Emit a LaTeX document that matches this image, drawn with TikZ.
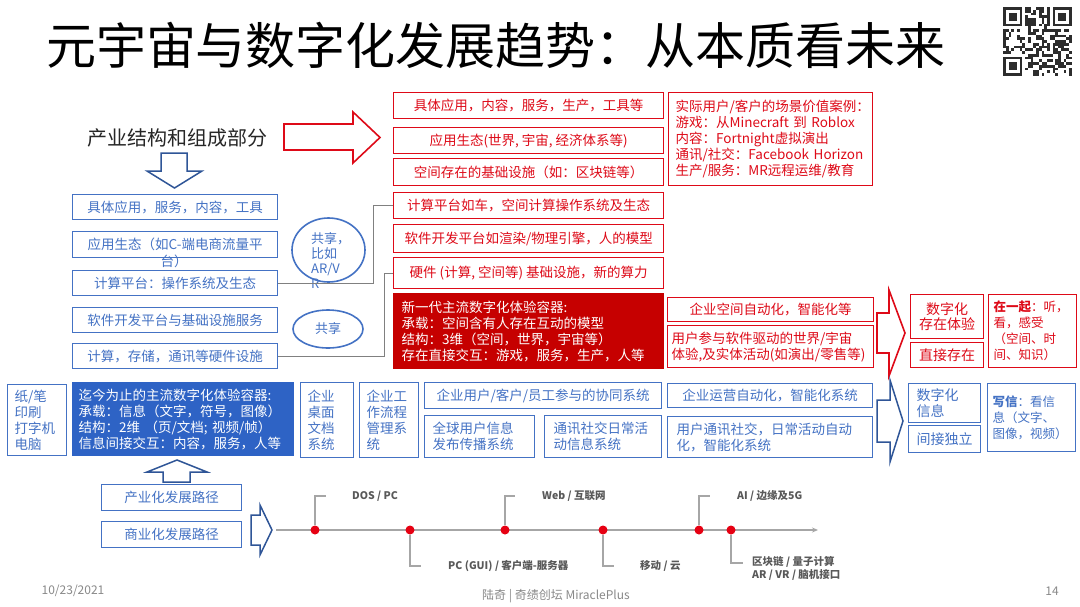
\documentclass[tikz,border=0pt]{standalone}
\usepackage{fontspec}
\setmainfont{Noto Sans CJK SC}
\usetikzlibrary{shapes.geometric,arrows.meta}
\definecolor{myred}{RGB}{222,10,24}
\definecolor{redfill}{RGB}{198,0,0}
\definecolor{myblue}{RGB}{68,114,196}
\definecolor{bluefill}{RGB}{46,99,197}
\definecolor{navy}{RGB}{47,85,151}
\definecolor{linegray}{RGB}{128,128,128}
\definecolor{tlgray}{RGB}{166,166,166}
\definecolor{lblgray}{RGB}{89,89,89}
\definecolor{ftgray}{RGB}{137,137,137}
\definecolor{dotred}{RGB}{230,0,18}
\definecolor{qrgray}{RGB}{45,45,45}
\newcommand{\fsA}{\fontsize{13.5}{16}\selectfont}
\newcommand{\fsB}{\fontsize{14}{15.5}\selectfont}
\newcommand{\fsC}{\fontsize{12.5}{16}\selectfont}
\newcommand{\fsE}{\fontsize{13}{15}\selectfont}
\newcommand{\fsT}{\fontsize{10.5}{13}\selectfont\bfseries}
\begin{document}
\begin{tikzpicture}[x=1pt,y=-1pt,
  base/.style={anchor=north west, inner sep=0pt, line width=1.3pt, font=\fsA},
  bbox/.style={base, draw=myblue, text=myblue},
  rbox/.style={base, draw=myred, text=myred},
  conn/.style={draw=linegray, line width=1.3pt},
  redarrow/.style={draw=myred, line width=1.6pt, fill=white, line join=miter},
  bluearrow/.style={draw=navy, line width=1.5pt, fill=white, line join=miter},
  dotnode/.style={circle, fill=dotred, minimum size=9pt, inner sep=0pt},
  callout/.style={draw=tlgray, line width=1.1pt},
  tlabel/.style={anchor=west, inner sep=0pt, text=lblgray, font=\fsT},
  bubble/.style={ellipse, draw=myblue, line width=1.6pt, text=myblue, inner sep=0pt, font=\fsE}
]
\useasboundingbox (0,0) rectangle (1080,606);
\fill[white] (0,0) rectangle (1080,606);

% title
\node[inner sep=0pt, font=\fontsize{50}{50}\selectfont] (title) at (496,45) {元宇宙与数字化发展趋势：从本质看未来};

% QR code
\pgfmathsetseed{4242}
\foreach \i in {0,...,24}{
  \foreach \j in {0,...,24}{
    \pgfmathtruncatemacro{\qrr}{rnd<0.5}
    \pgfmathtruncatemacro{\qin}{(\i<8 && \j<8) || (\i>16 && \j<8) || (\i<8 && \j>16)}
    \ifnum\qrr=1 \ifnum\qin=0
      \fill[qrgray] (1003+\i*2.76,7+\j*2.76) rectangle ++(2.76,2.76);
    \fi\fi
  }
}
\foreach \a/\b in {0/0,18/0,0/18}{
  \fill[qrgray] (1003+\a*2.76,7+\b*2.76) rectangle ++(19.32,19.32);
  \fill[white] (1003+\a*2.76+2.76,7+\b*2.76+2.76) rectangle ++(13.8,13.8);
  \fill[qrgray] (1003+\a*2.76+5.52,7+\b*2.76+5.52) rectangle ++(8.28,8.28);
}

% industry heading and arrows
\node[inner sep=0pt, text=black!85, font=\fontsize{20}{22}\selectfont] (ind) at (177,138) {产业结构和组成部分};
\draw[redarrow] (284,124) -- (353,124) -- (353,112) -- (380,137.5) -- (353,163) -- (353,150) -- (284,150) -- cycle;
\draw[bluearrow] (161,153) -- (187,153) -- (187,171) -- (202,171) -- (174.5,188) -- (147,171) -- (161,171) -- cycle;

% left column blue boxes
\node[bbox, minimum width=205pt, minimum height=25pt] (lb1) at (72,194) {具体应用，服务，内容，工具};
\node[bbox, minimum width=205pt, minimum height=26pt] (lb2) at (72,231) {应用生态（如C-端电商流量平};
\node[inner sep=0pt, text=myblue, font=\fsA] (lb2b) at (174,261) {台）};
\node[bbox, minimum width=205pt, minimum height=25pt] (lb3) at (72,270) {计算平台：操作系统及生态};
\node[bbox, minimum width=205pt, minimum height=25pt] (lb4) at (72,307) {软件开发平台与基础设施服务};
\node[bbox, minimum width=205pt, minimum height=25pt] (lb5) at (72,343) {计算，存储，通讯等硬件设施};

% bubbles
\node[bubble, minimum width=73pt, minimum height=64pt] (e1) at (328.5,250) {};
\node[anchor=north west, inner sep=0pt, align=left, text=myblue, font=\fsE] (e1t) at (311,232) {共享，\\比如\\AR/V\\R};
\node[bubble, minimum width=70pt, minimum height=38pt] (e2) at (328,329) {共享};

% middle red boxes
\node[rbox, minimum width=270pt, minimum height=26pt] (r1) at (393,92) {具体应用，内容，服务，生产，工具等};
\node[rbox, minimum width=270pt, minimum height=26pt] (r2) at (393,127) {应用生态(世界, 宇宙, 经济体系等)};
\node[rbox, minimum width=270pt, minimum height=27pt] (r3) at (393,158) {空间存在的基础设施（如：区块链等）};
\node[rbox, minimum width=270pt, minimum height=26pt] (r4) at (393,192) {计算平台如车，空间计算操作系统及生态};
\node[rbox, minimum width=270pt, minimum height=28pt] (r5) at (393,224) {软件开发平台如渲染/物理引擎，人的模型};
\node[rbox, minimum width=270pt, minimum height=31pt] (r6) at (393,257) {硬件 (计算, 空间等) 基础设施，新的算力};
\node[base, fill=redfill, draw=redfill, text=white, minimum width=270pt, minimum height=75pt, align=left, text width=254pt, inner xsep=8pt] (rf) at (393,293) {新一代主流数字化体验容器:\\承载：空间含有人存在互动的模型\\结构：3维（空间，世界，宇宙等）\\存在直接交互：游戏，服务，生产，人等};

% connectors
\draw[conn] (lb3.east) -- ++(95,0) |- (r4.west);
\draw[conn] (lb5.east) -- ++(106,0) |- (r6.west);

% right red boxes
\node[rbox, minimum width=204pt, minimum height=93pt, align=left, text width=190pt, inner xsep=7pt] (rc) at (668,92) {实际用户/客户的场景价值案例：\\游戏：从Minecraft 到 Roblox\\内容：Fortnight虚拟演出\\通讯/社交：Facebook Horizon\\生产/服务：MR远程运维/教育};
\node[rbox, minimum width=206pt, minimum height=24pt] (rx1) at (667,297) {企业空间自动化，智能化等};
\node[rbox, minimum width=206pt, minimum height=42pt, align=left, text width=198pt, inner xsep=4pt] (rx2) at (667,325) {用户参与软件驱动的世界/宇宙\\体验,及实体活动(如演出/零售等)};

% big arrows
\draw[redarrow] (877,313) -- (889,313) -- (889,290) -- (905,333) -- (889,376) -- (889,353) -- (877,353) -- cycle;
\draw[bluearrow] (877,400) -- (890,400) -- (890,380) -- (903,421) -- (890,462) -- (890,442) -- (877,442) -- cycle;

% far right red
\node[rbox, font=\fsB, minimum width=73pt, minimum height=44pt, align=center] (d1) at (910,294) {数字化\\存在体验};
\node[rbox, font=\fsB, minimum width=73pt, minimum height=25pt] (d2) at (910,342) {直接存在};
\node[rbox, font=\fsC, minimum width=88pt, minimum height=73pt, align=left, text width=78pt, inner xsep=5pt] (d3) at (988,294) {\textbf{在一起}：听，\\看，感受\\（空间、时\\间、知识）};

% far right blue
\node[bbox, font=\fsB, minimum width=72pt, minimum height=39pt, align=left, text width=56pt, inner xsep=8pt] (b1) at (908,383) {数字化\\信息};
\node[bbox, font=\fsB, minimum width=72pt, minimum height=27pt, align=left, text width=56pt, inner xsep=8pt] (b2) at (908,425) {间接独立};
\node[bbox, font=\fsC, minimum width=88pt, minimum height=68pt, align=left, text width=78pt, inner xsep=5pt] (b3) at (987,383) {\textbf{写信}：看信\\息（文字、\\图像，视频）};

% bottom row
\node[bbox, minimum width=59pt, minimum height=71pt, align=left, text width=45pt, inner xsep=7pt] (pen) at (7,384) {纸/笔\\印刷\\打字机\\电脑};
\node[base, fill=bluefill, draw=bluefill, text=white, minimum width=221pt, minimum height=73pt, align=left, text width=209pt, inner xsep=6pt] (bf) at (72,382) {迄今为止的主流数字化体验容器:\\承载：信息（文字，符号，图像）\\结构：2维 （页/文档; 视频/帧）\\信息间接交互：内容，服务，人等};
\node[bbox, minimum width=53pt, minimum height=75pt, align=left, text width=39pt, inner xsep=7pt] (c1) at (300,382) {企业\\桌面\\文档\\系统};
\node[bbox, minimum width=59pt, minimum height=75pt, align=left, text width=45pt, inner xsep=7pt] (c2) at (359,382) {企业工\\作流程\\管理系\\统};
\node[bbox, minimum width=237pt, minimum height=26pt] (c3) at (424,382) {企业用户/客户/员工参与的协同系统};
\node[bbox, minimum width=110pt, minimum height=42pt, align=left, text width=94pt, inner xsep=8pt] (c4) at (424,415) {全球用户信息\\发布传播系统};
\node[bbox, minimum width=117pt, minimum height=42pt, align=left, text width=99pt, inner xsep=9pt] (c5) at (544,415) {通讯社交日常活\\动信息系统};
\node[bbox, minimum width=205pt, minimum height=24pt] (c6) at (667,383) {企业运营自动化，智能化系统};
\node[bbox, minimum width=205pt, minimum height=41pt, align=left, text width=187pt, inner xsep=9pt] (c7) at (667,416) {用户通讯社交，日常活动自动\\化，智能化系统};

% development paths
\draw[bluearrow] (163,482) -- (190,482) -- (190,472) -- (207,472) -- (177,460) -- (147,472) -- (163,472) -- cycle;
\node[bbox, minimum width=140pt, minimum height=26pt] (p1) at (101,484) {产业化发展路径};
\node[bbox, minimum width=140pt, minimum height=26pt] (p2) at (101,521) {商业化发展路径};
\draw[bluearrow] (251,515) -- (260,515) -- (260,505) -- (272,530) -- (260,555) -- (260,545) -- (251,545) -- cycle;

% timeline
\coordinate (t0) at (276,530);
\coordinate (t1) at (818,530);
\draw[draw=tlgray, line width=1.8pt, -{Stealth[length=6pt,width=5pt]}] (t0) -- (t1);
\coordinate (k1) at (326,496);
\coordinate (k2) at (421,566);
\coordinate (k3) at (515,496);
\coordinate (k4) at (614,566);
\coordinate (k5) at (710,496);
\coordinate (k6) at (743,563);
\node[dotnode] (d01) at (315,530) {};
\node[dotnode] (d02) at (410,530) {};
\node[dotnode] (d03) at (505,530) {};
\node[dotnode] (d04) at (603,530) {};
\node[dotnode] (d05) at (699,530) {};
\node[dotnode] (d06) at (731,530) {};
\begin{scope}[on background layer/.style={}]
\draw[callout] (d01.north) |- (k1);
\draw[callout] (d02.south) |- (k2);
\draw[callout] (d03.north) |- (k3);
\draw[callout] (d04.south) |- (k4);
\draw[callout] (d05.north) |- (k5);
\draw[callout] (d06.south) |- (k6);
\end{scope}
\node[tlabel] (l1) at (352,496) {DOS / PC};
\node[tlabel] (l2) at (448,566) {PC (GUI) / 客户端-服务器};
\node[tlabel] (l3) at (542,496) {Web / 互联网};
\node[tlabel] (l4) at (640,566) {移动 / 云};
\node[tlabel] (l5) at (737,496) {AI / 边缘及5G};
\node[tlabel, align=left] (l6) at (752,568) {区块链 / 量子计算\\AR / VR / 脑机接口};

% footer
\node[inner sep=0pt, text=ftgray, font=\fontsize{12}{12}\selectfont] (date) at (73,591) {10/23/2021};
\node[inner sep=0pt, text=ftgray, font=\fontsize{12}{12}\selectfont] (foot) at (556,596) {陆奇 | 奇绩创坛 MiraclePlus};
\node[inner sep=0pt, text=ftgray, font=\fontsize{12}{12}\selectfont] (page) at (1052,591) {14};
\end{tikzpicture}
\end{document}
